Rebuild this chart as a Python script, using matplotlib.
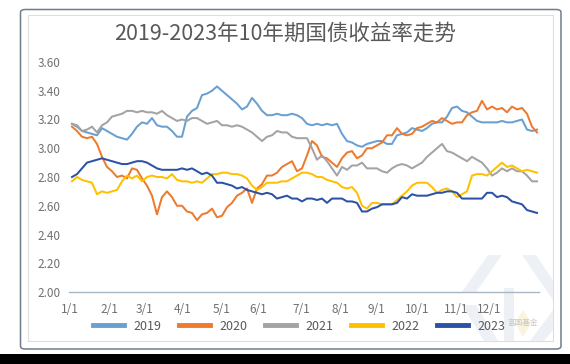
import matplotlib
matplotlib.use("Agg")
import matplotlib.pyplot as plt
from matplotlib.patches import FancyBboxPatch, Rectangle, Polygon
import numpy as np

plt.rcParams['font.family'] = ['Noto Sans CJK SC', 'DejaVu Sans']

# ---------------- data ----------------
title = "2019-2023年10年期国债收益率走势"
years = ["2019", "2020", "2021", "2022", "2023"]
month_labels = ["1/1", "2/1", "3/1", "4/1", "5/1", "6/1", "7/1", "8/1", "9/1", "10/1", "11/1", "12/1"]
# positions of month starts on the sample axis (samples are evenly spaced through the year)
month_pos = [-0.5, 7.4, 14.5, 22.2, 29.9, 37.2, 45.9, 53.7, 60.9, 69.1, 76.9, 83.4]

y2019 = [3.17, 3.15, 3.12, 3.11, 3.10, 3.09, 3.14, 3.12, 3.10, 3.08, 3.07, 3.06, 3.10, 3.15, 3.18, 3.17,
         3.21, 3.16, 3.15, 3.15, 3.12, 3.08, 3.08, 3.22, 3.26, 3.28, 3.37, 3.38, 3.40, 3.43, 3.40,
         3.37, 3.34, 3.31, 3.27, 3.29, 3.35, 3.31, 3.26, 3.23, 3.23, 3.24, 3.23, 3.23, 3.24, 3.23, 3.21,
         3.17, 3.16, 3.17, 3.16, 3.17, 3.16, 3.17, 3.10, 3.05, 3.04, 3.02, 3.01, 3.03, 3.04, 3.05, 3.05,
         3.03, 3.03, 3.09, 3.10, 3.11, 3.14, 3.13, 3.12, 3.14, 3.17, 3.18, 3.18, 3.22, 3.28, 3.29, 3.26,
         3.25, 3.22, 3.19, 3.18, 3.18, 3.18, 3.18, 3.19, 3.18, 3.18, 3.19, 3.20, 3.13, 3.12, 3.13]
y2020 = [3.15, 3.12, 3.08, 3.07, 3.08, 3.03, 2.94, 2.87, 2.84, 2.80, 2.81, 2.79, 2.86, 2.85, 2.79, 2.74,
         2.67, 2.54, 2.66, 2.70, 2.66, 2.60, 2.60, 2.56, 2.55, 2.50, 2.54, 2.55, 2.58, 2.52, 2.53,
         2.59, 2.62, 2.67, 2.69, 2.72, 2.62, 2.72, 2.75, 2.81, 2.81, 2.83, 2.87, 2.89, 2.91, 2.84, 2.86,
         2.95, 3.05, 3.02, 2.94, 2.93, 2.90, 2.87, 2.93, 2.97, 2.98, 2.93, 2.95, 3.00, 3.00, 3.02, 3.04,
         3.09, 3.09, 3.14, 3.10, 3.09, 3.10, 3.14, 3.15, 3.17, 3.19, 3.18, 3.21, 3.19, 3.17, 3.18, 3.18,
         3.23, 3.25, 3.26, 3.33, 3.27, 3.29, 3.27, 3.28, 3.25, 3.29, 3.27, 3.28, 3.24, 3.15, 3.11]
y2021 = [3.17, 3.16, 3.12, 3.13, 3.15, 3.11, 3.16, 3.18, 3.22, 3.23, 3.24, 3.26, 3.26, 3.25, 3.26, 3.25,
         3.25, 3.24, 3.26, 3.23, 3.21, 3.19, 3.20, 3.19, 3.21, 3.21, 3.19, 3.17, 3.18, 3.19, 3.16,
         3.16, 3.15, 3.16, 3.15, 3.13, 3.11, 3.08, 3.05, 3.08, 3.09, 3.12, 3.11, 3.11, 3.08, 3.07, 3.07,
         3.07, 3.00, 2.92, 2.95, 2.91, 2.86, 2.81, 2.87, 2.85, 2.88, 2.88, 2.90, 2.86, 2.86, 2.86, 2.84,
         2.83, 2.86, 2.88, 2.89, 2.88, 2.86, 2.88, 2.90, 2.94, 2.97, 3.00, 3.03, 2.98, 2.97, 2.95, 2.93,
         2.91, 2.94, 2.92, 2.90, 2.86, 2.81, 2.83, 2.86, 2.84, 2.86, 2.84, 2.84, 2.81, 2.77, 2.77]
y2022 = [2.77, 2.80, 2.78, 2.77, 2.76, 2.68, 2.70, 2.69, 2.70, 2.71, 2.77, 2.81, 2.79, 2.81, 2.77, 2.80,
         2.81, 2.80, 2.80, 2.79, 2.82, 2.78, 2.77, 2.77, 2.76, 2.77, 2.76, 2.79, 2.82, 2.82, 2.83,
         2.83, 2.82, 2.82, 2.81, 2.79, 2.74, 2.71, 2.73, 2.76, 2.76, 2.76, 2.77, 2.77, 2.79, 2.81, 2.83,
         2.83, 2.82, 2.80, 2.80, 2.78, 2.77, 2.76, 2.73, 2.72, 2.73, 2.69, 2.60, 2.58, 2.62, 2.62, 2.61,
         2.61, 2.61, 2.64, 2.67, 2.70, 2.74, 2.76, 2.76, 2.76, 2.73, 2.69, 2.71, 2.72, 2.70, 2.66, 2.68,
         2.70, 2.81, 2.82, 2.82, 2.81, 2.84, 2.87, 2.90, 2.87, 2.88, 2.86, 2.84, 2.85, 2.84, 2.83]
y2023 = [2.80, 2.82, 2.86, 2.90, 2.91, 2.92, 2.93, 2.92, 2.91, 2.90, 2.89, 2.89, 2.90, 2.91, 2.91, 2.90,
         2.88, 2.86, 2.85, 2.85, 2.85, 2.85, 2.86, 2.85, 2.86, 2.84, 2.82, 2.83, 2.81, 2.76, 2.76,
         2.75, 2.74, 2.72, 2.73, 2.71, 2.70, 2.69, 2.68, 2.69, 2.68, 2.65, 2.66, 2.67, 2.65, 2.65, 2.63,
         2.65, 2.65, 2.64, 2.65, 2.62, 2.65, 2.65, 2.65, 2.63, 2.63, 2.62, 2.56, 2.56, 2.58, 2.59, 2.61,
         2.61, 2.61, 2.62, 2.66, 2.65, 2.68, 2.67, 2.67, 2.67, 2.68, 2.69, 2.69, 2.70, 2.70, 2.69, 2.65,
         2.65, 2.65, 2.65, 2.65, 2.69, 2.69, 2.66, 2.67, 2.66, 2.63, 2.62, 2.61, 2.57, 2.56, 2.55]
series = [y2019, y2020, y2021, y2022, y2023]
colors = ["#6a9fd1", "#ee7a2f", "#a3a3a3", "#ffc000", "#2b52a5"]
y_ticks = [2.00, 2.20, 2.40, 2.60, 2.80, 3.00, 3.20, 3.40, 3.60]

# ---------------- figure ----------------
W, H = 570, 364
fig = plt.figure(figsize=(W / 100, H / 100), dpi=100)
fig.patch.set_facecolor("white")

def fx(px):
    return px / W

def fy(py):
    return 1 - py / H

# black strip at the bottom
fig.patches.append(Rectangle((0, 0), 1, fy(354), transform=fig.transFigure,
                             facecolor="black", edgecolor="none", zorder=0))
# outer rounded frame
fig.patches.append(FancyBboxPatch((fx(20.5), fy(349)), fx(561) - fx(20.5), fy(9.5) - fy(349),
                                  boxstyle="round,pad=0,rounding_size=0.008",
                                  transform=fig.transFigure, facecolor="white",
                                  edgecolor="#6e7e8e", linewidth=1.1, zorder=0.5))
# inner light frame
fig.patches.append(Rectangle((fx(28), fy(341)), fx(553) - fx(28), fy(15) - fy(341),
                             transform=fig.transFigure, facecolor="none",
                             edgecolor="#dedede", linewidth=0.8, zorder=0.6))

# faint logo watermark (bottom-right)
wm = "#edf1f6"
for pts in [
    [(462, 292), (488, 255), (502, 255), (476, 292)],
    [(522, 255), (536, 255), (553, 280), (553, 300)],
    [(504, 288), (514, 288), (514, 341), (504, 341)],
    [(462, 305), (476, 305), (498, 341), (484, 341)],
    [(553, 310), (553, 330), (544, 341), (530, 341)],
]:
    fig.patches.append(Polygon([(fx(a), fy(b)) for a, b in pts], closed=True,
                               transform=fig.transFigure, facecolor=wm,
                               edgecolor="none", zorder=0.7))
fig.patches.append(Polygon([(fx(523), fy(310)), (fx(531), fy(323)), (fx(523), fy(337)), (fx(515), fy(323))],
                           closed=True, transform=fig.transFigure, facecolor="#fcf3dc",
                           edgecolor="none", zorder=0.75))
fig.text(fx(523), fy(323), "富国基金", fontsize=5.5, color="#c9c9c9",
         ha="center", va="center", zorder=1)

# title
fig.text(fx(285), fy(34), title, fontsize=15.5, color="#595959", fontweight="light",
         ha="center", va="center")

# axes
ax_left, ax_right, ax_top, ax_bot = 68.7, 538.6, 62, 292
ax = fig.add_axes([fx(ax_left), fy(ax_bot), fx(ax_right) - fx(ax_left), fy(ax_top) - fy(ax_bot)])
ax.set_facecolor("none")
ax.set_zorder(2)

n = len(y2019)
x = np.arange(n)
for yr, vals, c in zip(years, series, colors):
    ax.plot(x, vals, color=c, linewidth=1.45, label=yr, solid_joinstyle="round")

ax.set_ylim(2.0, 3.6)
ax.set_xlim((ax_left - 72) / 5, (ax_right - 72) / 5)
ax.set_yticks(y_ticks)
ax.set_yticklabels([f"{v:.2f}" for v in y_ticks])
ax.set_xticks(month_pos)
ax.set_xticklabels(month_labels)
for s in ["top", "right", "left"]:
    ax.spines[s].set_visible(False)
ax.spines["bottom"].set_color("#a9b6c4")
ax.spines["bottom"].set_linewidth(1.0)
ax.tick_params(axis="both", length=0, labelsize=8.5, labelcolor="#707070")
ax.tick_params(axis="y", pad=6)
ax.tick_params(axis="x", pad=8)

leg = fig.legend(loc="center", bbox_to_anchor=(fx(299), fy(326)), ncol=5, frameon=False,
                 fontsize=9, handlelength=2.5, handletextpad=0.75, columnspacing=1.4)
for t in leg.get_texts():
    t.set_color("#595959")
for h in leg.legend_handles:
    h.set_linewidth(3.5)

fig.savefig("out.png", dpi=100)
